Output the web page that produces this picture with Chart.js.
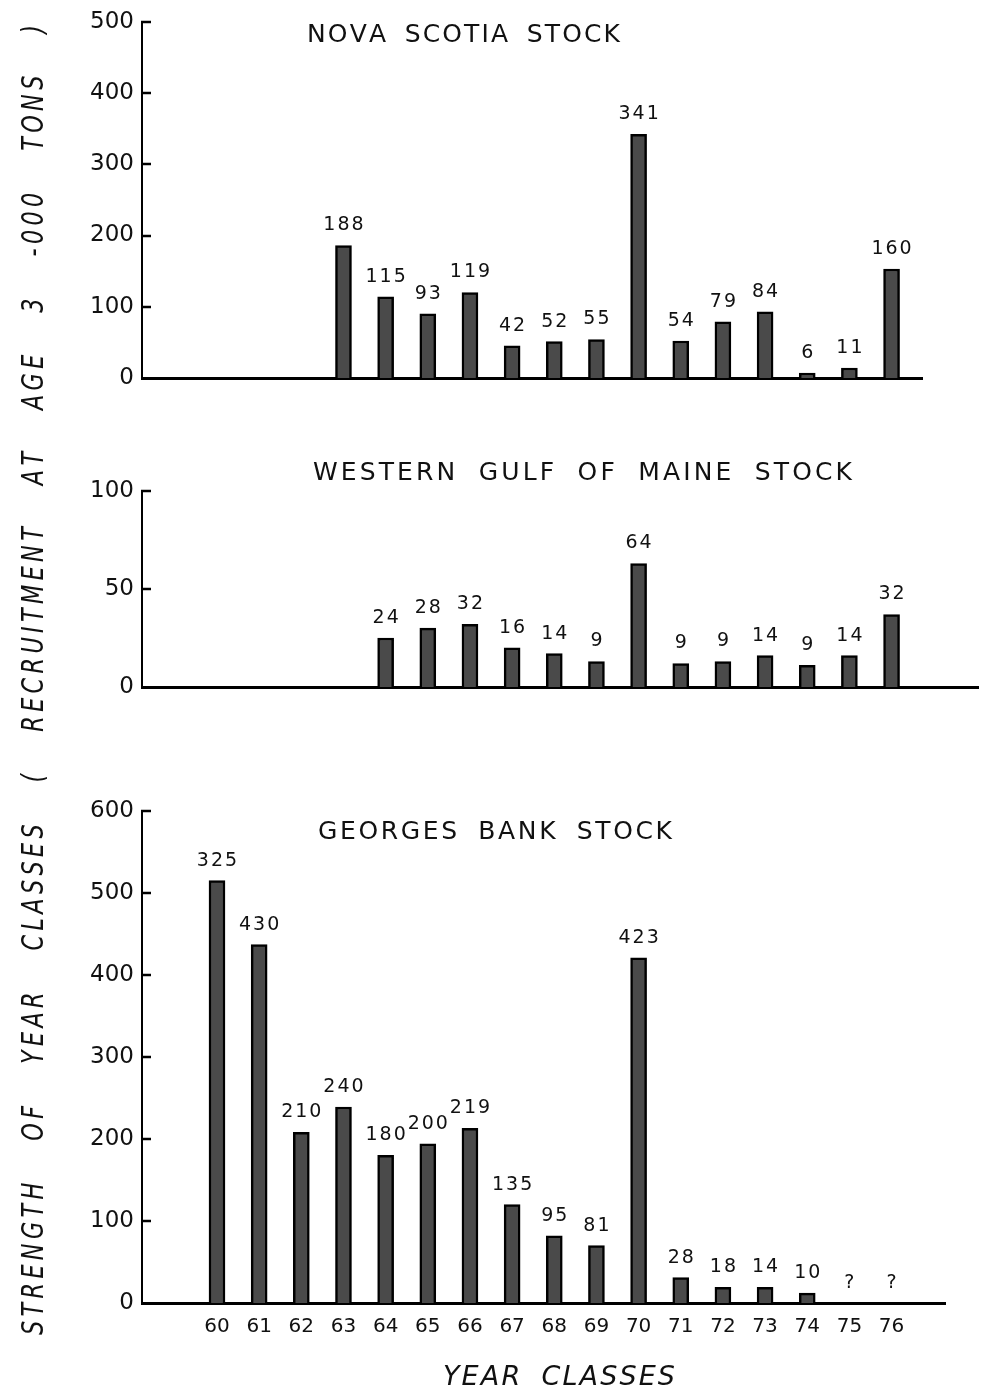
<!DOCTYPE html>
<html>
<head>
<meta charset="utf-8">
<script src="https://cdn.jsdelivr.net/npm/chart.js@4.4.0/dist/chart.umd.min.js"></script>
<style>
html,body{margin:0;padding:0;background:#fff;}
#wrap{position:relative;width:981px;height:1391px;overflow:hidden;}
#wrap canvas{position:absolute;left:0;top:0;}
</style>
</head>
<body>
<div id="wrap">
<canvas id="c1" width="981" height="1391"></canvas>
<canvas id="c2" width="981" height="1391"></canvas>
<canvas id="c3" width="981" height="1391"></canvas>
</div>
<script>
// ---------- DATA ----------
const nsYears   = [63,64,65,66,67,68,69,70,71,72,73,74,75,76];
const nsValues  = [186,114,90,120,45,51,54,342,52,79,93,7,14,153];
const nsLabels  = ['188','115','93','119','42','52','55','341','54','79','84','6','11','160'];

const wgmYears  = [64,65,66,67,68,69,70,71,72,73,74,75,76];
const wgmValues = [25,30,32,20,17,13,63,12,13,16,11,16,37];
const wgmLabels = ['24','28','32','16','14','9','64','9','9','14','9','14','32'];

const gbYears   = [60,61,62,63,64,65,66,67,68,69,70,71,72,73,74,75,76];
const gbValues  = [515,437,208,239,180,194,213,120,82,70,421,31,19,19,12,null,null];
const gbLabels  = ['325','430','210','240','180','200','219','135','95','81','423','28','18','14','10','?','?'];

const nsTitle  = 'NOVA SCOTIA STOCK';
const wgmTitle = 'WESTERN GULF OF MAINE STOCK';
const gbTitle  = 'GEORGES BANK STOCK';
const xTitle   = 'YEAR CLASSES';
const yTitle   = 'STRENGTH OF YEAR CLASSES ( RECRUITMENT AT AGE 3 -000 TONS )';

// ---------- LAYOUT / STYLE ----------
const W = 981, H = 1391;
const AXIS_X = 142;           // y-axis line pixel
const YEAR60_PX = 217, PX_PER_YEAR = 42.16;
const pxToYear = px => 60 + (px - YEAR60_PX) / PX_PER_YEAR;
const FONT = '"DejaVu Sans", "Liberation Sans", sans-serif';
const INK = '#111';

function drawJustified(ctx, text, x0, x1, cy, spaceWeight) {
  const chars = [...text];
  const ws = chars.map(c => ctx.measureText(c).width);
  const natural = ws.reduce((a, b) => a + b, 0);
  const gw = []; let tw = 0;
  for (let i = 0; i < chars.length - 1; i++) {
    const w = (chars[i] === ' ' || chars[i + 1] === ' ') ? spaceWeight : 1;
    gw.push(w); tw += w;
  }
  const unit = tw ? (x1 - x0 - natural) / tw : 0;
  ctx.textAlign = 'left'; ctx.textBaseline = 'middle';
  let x = x0;
  chars.forEach((c, i) => { ctx.fillText(c, x, cy); x += ws[i] + (i < gw.length ? gw[i] * unit : 0); });
}
function drawTracked(ctx, text, cx, cy, spacing) {
  const chars = [...text];
  const ws = chars.map(c => ctx.measureText(c).width);
  const total = ws.reduce((a, b) => a + b, 0) + spacing * (chars.length - 1);
  let x = cx - total / 2;
  ctx.textAlign = 'left'; ctx.textBaseline = 'middle';
  chars.forEach((c, i) => { ctx.fillText(c, x, cy); x += ws[i] + spacing; });
}

function makePanel(id, years, values, labels, cfg) {
  const xh = cfg.showX ? H - cfg.bottom : 0;
  const padBottom = H - cfg.bottom - xh;
  const panelPlugin = {
    id: 'panel_' + id,
    afterDraw(chart) {
      const ctx = chart.ctx, ca = chart.chartArea, ys = chart.scales.y, xs = chart.scales.x;
      ctx.save();
      // inward tick marks
      ctx.strokeStyle = '#000'; ctx.lineWidth = 2.5;
      ys.ticks.forEach(t => {
        if (t.value === 0) return;
        const py = Math.round(ys.getPixelForValue(t.value));
        ctx.beginPath(); ctx.moveTo(ca.left - 1, py); ctx.lineTo(ca.left + 9, py); ctx.stroke();
      });
      // bar value labels
      ctx.fillStyle = INK;
      ctx.font = '19px ' + FONT;
      const meta = chart.getDatasetMeta(0);
      meta.data.forEach((el, i) => {
        const v = values[i];
        const top = (v === null || v === undefined) ? ys.getPixelForValue(0) : el.y;
        drawTracked(ctx, labels[i], xs.getPixelForValue(years[i]), top - 20, 2);
      });
      // panel title
      ctx.font = '25px ' + FONT;
      drawJustified(ctx, cfg.title, cfg.tx0, cfg.tx1, cfg.ty, 2.5);
      if (cfg.extra) cfg.extra(ctx);
      ctx.restore();
    }
  };
  return new Chart(document.getElementById(id), {
    type: 'bar',
    data: {
      datasets: [{
        data: years.map((y, i) => ({ x: y, y: values[i] })),
        backgroundColor: '#4a4a4a',
        borderColor: '#000',
        borderWidth: 2.5,
        barThickness: 16
      }]
    },
    options: {
      responsive: false, animation: false, devicePixelRatio: 1,
      layout: { padding: { left: 0, top: cfg.top, right: W - cfg.right, bottom: padBottom } },
      plugins: { legend: { display: false }, tooltip: { enabled: false }, title: { display: false } },
      scales: {
        x: {
          type: 'linear', offset: false,
          min: pxToYear(AXIS_X), max: pxToYear(cfg.right),
          grid: { display: false, drawTicks: false },
          border: { display: true, color: '#000', width: 3 },
          ticks: { display: !!cfg.showX, color: INK, font: { family: FONT, size: 20 }, padding: 12, maxRotation: 0, autoSkip: false },
          afterBuildTicks: s => { s.ticks = years.map(v => ({ value: v })); },
          afterFit: s => { s.height = xh; }
        },
        y: {
          min: 0, max: cfg.yMax,
          grid: { display: false, drawTicks: false },
          border: { display: true, color: '#000', width: 2 },
          ticks: { stepSize: cfg.yStep, color: INK, font: { family: FONT, size: 23 }, padding: 8 },
          afterFit: s => { s.width = AXIS_X; }
        }
      }
    },
    plugins: [panelPlugin]
  });
}

makePanel('c1', nsYears, nsValues, nsLabels, {
  top: 21, bottom: 378, right: 922, yMax: 500, yStep: 100,
  title: nsTitle, tx0: 307, tx1: 620, ty: 35
});
makePanel('c2', wgmYears, wgmValues, wgmLabels, {
  top: 491, bottom: 687, right: 978, yMax: 100, yStep: 50,
  title: wgmTitle, tx0: 313, tx1: 852, ty: 473
});
makePanel('c3', gbYears, gbValues, gbLabels, {
  top: 811, bottom: 1303, right: 945, yMax: 600, yStep: 100, showX: true,
  title: gbTitle, tx0: 318, tx1: 672, ty: 832,
  extra: ctx => {
    ctx.fillStyle = INK;
    ctx.font = 'italic 27px ' + FONT;
    drawJustified(ctx, xTitle, 443, 675, 1378, 3);
    ctx.save();
    ctx.translate(35, 1335);
    ctx.rotate(-Math.PI / 2);
    const sx = 0.72;
    ctx.scale(sx, 1);
    ctx.font = 'italic 31px ' + FONT;
    drawJustified(ctx, yTitle, 0, 1310 / sx, 0, 4);
    ctx.restore();
  }
});
</script>
</body>
</html>
